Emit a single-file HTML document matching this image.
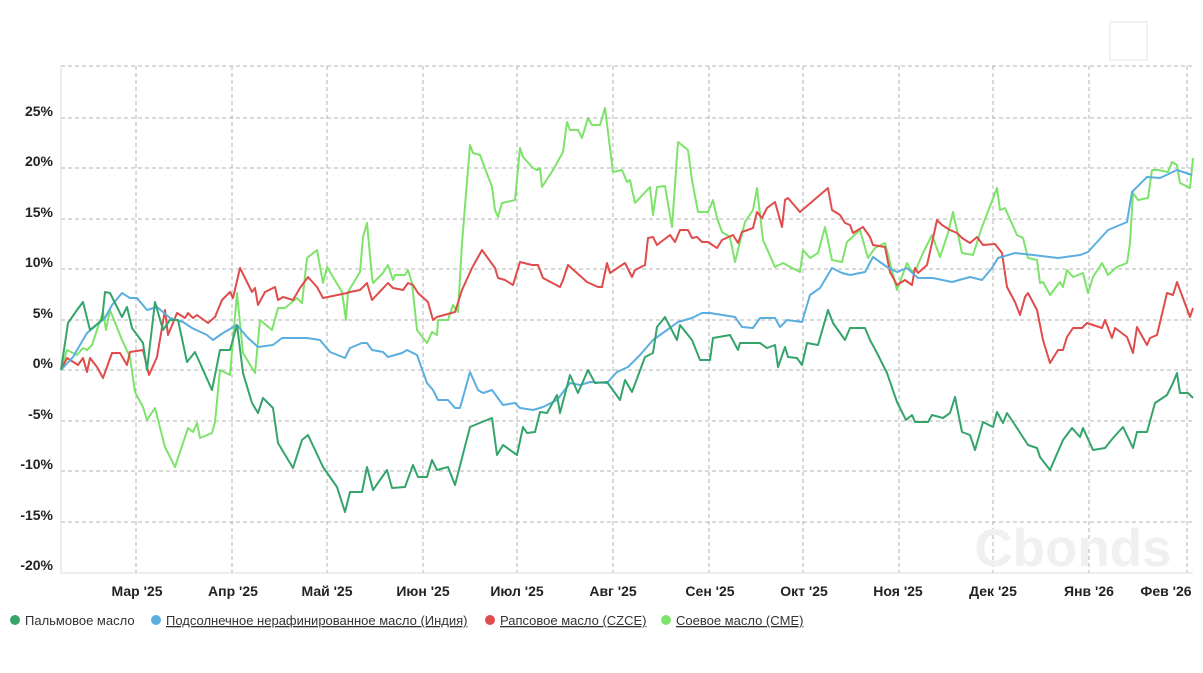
<!DOCTYPE html>
<html><head><meta charset="utf-8"><style>
body{margin:0;background:#fff;width:1203px;height:673px;overflow:hidden;font-family:"Liberation Sans","DejaVu Sans",sans-serif}
</style></head><body>
<svg width="1203" height="673" xmlns="http://www.w3.org/2000/svg" style="position:absolute;left:0;top:0">
<rect x="1110" y="22" width="37" height="38" fill="#fff" stroke="#e4e4e4"/>
<g stroke="#b4b4b4" stroke-dasharray="4,3" stroke-width="1" fill="none">
<path d="M61 66H1193M61 118H1193M61 168H1193M61 219H1193M61 269H1193M61 320H1193M61 370H1193M61 421H1193M61 471H1193M61 522H1193"/>
<path d="M136 66V573M232 66V573M327 66V573M423 66V573M517 66V573M613 66V573M709 66V573M803 66V573M899 66V573M993 66V573M1089 66V573M1187 66V573"/>
</g>
<path d="M61 66V573H1193" stroke="#ddd" fill="none"/>
<text x="1073" y="566" font-size="53" font-weight="bold" fill="#f0f0f0" text-anchor="middle" font-family="Liberation Sans,sans-serif">Cbonds</text>
<g font-size="14" font-weight="bold" fill="#222" text-anchor="end">
<text x="53" y="116">25%</text><text x="53" y="166">20%</text><text x="53" y="217">15%</text><text x="53" y="267">10%</text><text x="53" y="318">5%</text><text x="53" y="368">0%</text><text x="53" y="419">-5%</text><text x="53" y="469">-10%</text><text x="53" y="520">-15%</text><text x="53" y="570">-20%</text>
</g>
<g font-size="14" font-weight="bold" fill="#222" text-anchor="middle">
<text x="137" y="596">Мар '25</text><text x="233" y="596">Апр '25</text><text x="327" y="596">Май '25</text><text x="423" y="596">Июн '25</text><text x="517" y="596">Июл '25</text><text x="613" y="596">Авг '25</text><text x="710" y="596">Сен '25</text><text x="804" y="596">Окт '25</text><text x="898" y="596">Ноя '25</text><text x="993" y="596">Дек '25</text><text x="1089" y="596">Янв '26</text><text x="1166" y="596">Фев '26</text>
</g>
<g fill="none" stroke-width="2" stroke-linejoin="round">
<polyline stroke="#7de36a" points="61,370 67,350 77,355 83,348 87,350 92,345 103,312 106,330 110,310 122,340 130,357 135,392 143,407 147,420 155,408 165,447 175,467 188,428 193,432 197,423 200,438 212,433 215,422 220,370 230,375 237,293 243,353 255,373 260,320 272,330 278,308 285,308 297,298 302,303 307,258 317,250 323,283 327,267 342,292 346,320 348,292 360,272 363,237 367,223 372,277 373,283 383,273 388,265 393,280 395,275 405,275 408,270 412,283 417,330 427,343 432,332 437,335 438,320 448,320 453,305 458,312 462,243 470,145 473,153 480,155 492,187 495,210 498,217 502,203 515,200 520,148 523,157 533,168 537,170 540,168 542,187 553,170 563,152 567,122 570,130 578,130 582,138 588,118 592,125 600,125 605,108 613,172 622,170 627,182 630,180 635,203 650,187 653,215 657,187 665,186 672,227 678,142 688,150 692,180 698,212 708,212 713,200 717,218 722,232 730,237 735,262 745,222 753,210 757,188 763,240 775,267 783,263 800,272 803,250 810,258 818,253 825,227 832,260 842,262 847,242 860,230 868,258 875,248 885,243 897,290 907,263 912,272 917,267 923,253 932,235 940,257 948,233 953,212 962,253 973,255 982,227 997,188 1000,210 1005,208 1017,235 1023,238 1028,258 1037,260 1040,283 1043,282 1050,295 1060,282 1063,287 1067,270 1073,277 1083,273 1088,293 1093,277 1102,263 1108,275 1117,267 1127,263 1130,243 1133,193 1138,200 1148,198 1152,170 1158,170 1168,172 1172,162 1177,165 1180,183 1190,188 1193,158"/>
<polyline stroke="#e04b4b" points="61,370 67,358 78,365 83,358 87,372 90,358 97,367 103,378 112,353 120,353 127,365 130,352 143,350 149,375 157,357 165,310 168,335 177,313 185,318 188,313 193,318 197,315 208,323 215,317 222,300 230,292 233,298 240,268 252,292 255,288 258,305 265,292 275,287 278,300 283,297 293,300 300,288 308,277 317,287 323,298 347,293 350,292 360,290 367,283 372,300 388,283 393,288 403,290 408,283 413,285 418,293 428,302 433,320 437,317 455,312 462,290 472,268 482,250 495,268 498,278 505,280 513,285 520,262 532,265 538,265 543,278 560,287 563,280 568,265 587,282 598,287 602,287 607,263 610,273 625,263 632,277 635,270 645,265 648,238 653,237 657,245 670,235 675,242 680,230 688,230 692,238 697,237 702,242 708,242 717,248 722,240 733,235 738,243 742,232 753,228 757,212 762,218 767,208 775,202 782,227 785,200 788,198 800,212 828,188 832,210 840,215 845,223 850,225 853,233 863,227 870,237 873,245 885,247 890,272 897,285 905,280 912,285 915,268 918,273 927,265 932,243 937,220 942,225 950,230 957,233 962,238 970,243 977,237 983,245 995,244 1002,253 1007,287 1015,302 1020,315 1025,297 1028,293 1037,310 1043,340 1050,363 1058,350 1063,350 1067,337 1073,328 1082,328 1087,323 1102,328 1105,320 1112,338 1115,328 1127,337 1133,353 1137,327 1147,345 1150,338 1157,335 1167,293 1173,295 1177,282 1190,317 1193,308"/>
<polyline stroke="#5aaee0" points="61,370 73,357 87,333 105,318 112,305 122,293 130,298 137,298 147,310 157,307 170,318 183,322 192,328 207,335 213,340 223,333 237,325 247,337 258,347 273,345 282,338 307,338 320,340 330,352 345,358 350,348 362,343 367,343 372,350 383,352 388,357 395,355 402,353 407,350 417,355 427,383 433,390 438,400 448,400 455,408 460,408 470,372 478,390 483,393 492,390 503,405 515,403 520,408 533,410 543,407 557,400 570,383 580,385 590,382 607,383 617,372 628,367 640,355 653,340 667,330 678,322 692,318 702,313 710,313 735,317 742,327 753,328 760,318 775,318 780,327 787,320 802,322 810,295 820,288 832,268 842,273 850,275 865,272 873,257 887,267 897,272 907,268 918,278 933,278 952,282 970,277 982,280 992,268 998,258 1015,253 1033,255 1058,258 1080,255 1088,252 1108,230 1120,225 1127,222 1132,192 1147,177 1160,178 1177,170 1192,175"/>
<polyline stroke="#34a46a" points="61,370 68,323 77,310 83,302 90,330 102,320 105,292 110,293 122,317 127,307 132,328 143,343 147,370 155,302 163,330 170,320 178,320 187,362 195,352 212,390 220,350 230,350 237,325 243,373 252,403 258,413 263,398 273,408 278,443 293,468 302,440 308,435 323,467 337,487 345,512 350,492 362,492 367,467 373,490 387,470 392,488 405,487 413,465 418,477 427,477 432,460 437,470 448,467 455,485 470,427 482,422 492,418 497,455 503,445 517,455 523,427 527,433 535,432 540,412 547,413 557,395 560,413 570,375 578,393 588,370 595,383 607,382 620,400 625,380 632,392 645,357 653,353 657,327 665,317 677,340 680,325 692,340 700,360 710,360 713,338 730,335 738,350 740,343 760,343 767,348 775,345 778,367 785,347 788,357 797,358 802,365 807,343 818,345 828,310 833,323 845,340 850,328 865,328 870,340 877,353 887,373 897,402 906,420 912,415 915,422 928,422 932,415 943,418 950,413 955,397 962,432 970,435 975,450 983,422 993,427 997,412 1003,423 1007,413 1015,425 1028,445 1037,448 1040,457 1050,470 1063,440 1072,428 1080,437 1083,428 1093,450 1105,448 1113,438 1123,427 1133,448 1137,432 1147,432 1155,403 1167,395 1173,383 1177,373 1180,393 1188,393 1193,398"/>
</g>
<g font-size="13" fill="#333">
<circle cx="15" cy="620" r="5" fill="#34a46a"/><text x="25" y="625">Пальмовое масло</text>
<circle cx="156" cy="620" r="5" fill="#5aaee0"/><text x="166" y="625" text-decoration="underline">Подсолнечное нерафинированное масло (Индия)</text>
<circle cx="490" cy="620" r="5" fill="#e04b4b"/><text x="500" y="625" text-decoration="underline">Рапсовое масло (CZCE)</text>
<circle cx="666" cy="620" r="5" fill="#7de36a"/><text x="676" y="625" text-decoration="underline">Соевое масло (CME)</text>
</g>
</svg>
</body></html>
